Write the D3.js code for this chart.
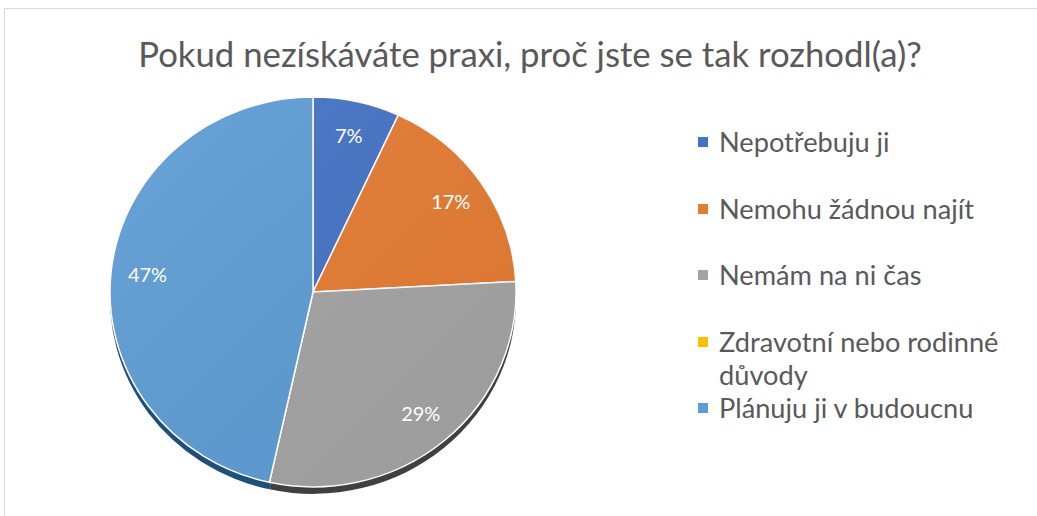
<!DOCTYPE html>
<html>
<head>
<meta charset="utf-8">
<script src="https://cdn.jsdelivr.net/npm/d3@7"></script>
<style>
  body { margin: 0; background: #fff; }
  svg { display: block; }
</style>
</head>
<body>
<div id="chart"></div>
<script>
// answers (counts), order as in the legend
var categories = ["Nepotřebuju ji", "Nemohu žádnou najít", "Nemám na ni čas", "Zdravotní nebo rodinné důvody", "Plánuju ji v budoucnu"]
var counts = [4, 10, 17, 0, 27]
var colors = ["#4472c4", "#e47b32", "#a3a3a3", "#ffc000", "#5d9cd4"]
var shadowColors = ["#203864", "#843c0c", "#404040", "#7f6000", "#1f4e79"]
var title = "Pokud nezískáváte praxi, proč jste se tak rozhodl(a)?"

var width = 1037, height = 516
var svg = d3.select("#chart").append("svg")
    .attr("width", width)
    .attr("height", height)

// chart area frame (runs off the right and bottom edge)
svg.append("rect")
    .attr("x", 4.5).attr("y", 8.5)
    .attr("width", 1100).attr("height", 600)
    .attr("fill", "#fff")
    .attr("stroke", "#d9d9d9")
    .attr("stroke-width", 1)

var font = "Lato, 'Open Sans', sans-serif"

// title, sized to span the same width as the original
var t = svg.append("text")
    .attr("x", 530).attr("y", 67)
    .attr("text-anchor", "middle")
    .style("font-family", font)
    .style("font-size", "30px")
    .style("fill", "#595959")
    .text(title)
var tw = t.node().getComputedTextLength()
t.style("font-size", (30 * 784 / tw) + "px")

// pie, slightly squashed vertically like the original
var cx = 313, cy = 292, r = 203, sy = 0.96
var pie = d3.pie().sort(null).value(function (d) { return d })
var arcs = pie(counts)
var total = d3.sum(counts)
var arc = d3.arc().innerRadius(0).outerRadius(r)
var labelArc = d3.arc().innerRadius(r * 0.82).outerRadius(r * 0.82)

// soft shading over the slices
var defs = svg.append("defs")
var grad = defs.append("linearGradient")
    .attr("id", "shade")
    .attr("x1", "0").attr("y1", "0")
    .attr("x2", "1").attr("y2", "1")
grad.append("stop").attr("offset", "0%").attr("stop-color", "#fff").attr("stop-opacity", 0.08)
grad.append("stop").attr("offset", "100%").attr("stop-color", "#000").attr("stop-opacity", 0.04)

// shadow copy underneath
svg.append("g")
    .attr("transform", "translate(" + cx + "," + (cy + 7) + ") scale(1," + sy + ")")
    .selectAll("path")
    .data(arcs)
    .enter()
    .append("path")
    .attr("d", arc)
    .attr("fill", function (d, i) { return shadowColors[i] })

var g = svg.append("g")
    .attr("transform", "translate(" + cx + "," + cy + ") scale(1," + sy + ")")

g.selectAll("path.slice")
    .data(arcs)
    .enter()
    .append("path")
    .attr("class", "slice")
    .attr("d", arc)
    .attr("fill", function (d, i) { return colors[i] })
    .attr("stroke", "#fff")
    .attr("stroke-width", 1.5)
    .attr("vector-effect", "non-scaling-stroke")

g.append("circle")
    .attr("r", r)
    .attr("fill", "url(#shade)")
    .attr("pointer-events", "none")

// data labels
svg.selectAll("text.lbl")
    .data(arcs.filter(function (d) { return d.value > 0 }))
    .enter()
    .append("text")
    .attr("class", "lbl")
    .attr("x", function (d) { return cx + labelArc.centroid(d)[0] })
    .attr("y", function (d) { return cy + labelArc.centroid(d)[1] * sy })
    .attr("dy", "0.35em")
    .attr("text-anchor", "middle")
    .style("font-family", font)
    .style("font-size", "20px")
    .style("fill", "#fff")
    .text(function (d) { return Math.round(d.value / total * 100) + "%" })

// legend
var legendY = [142, 209, 275, 342, 408]
var legend = svg.append("g")
var lfs = 24
var probe = legend.append("text")
    .style("font-family", font).style("font-size", lfs + "px")
    .text(categories[1])
lfs = lfs * 255 / probe.node().getComputedTextLength()
probe.remove()

categories.forEach(function (c, i) {
    legend.append("rect")
        .attr("x", 698).attr("y", legendY[i] - 5)
        .attr("width", 10).attr("height", 10)
        .attr("fill", colors[i])
    var lines = (i == 3) ? ["Zdravotní nebo rodinné", "důvody"] : [c]
    var txt = legend.append("text")
        .attr("x", 719).attr("y", legendY[i])
        .style("font-family", font)
        .style("font-size", lfs + "px")
        .style("fill", "#595959")
    lines.forEach(function (l, k) {
        txt.append("tspan")
            .attr("x", 719)
            .attr("dy", k == 0 ? "0.35em" : "33px")
            .text(l)
    })
})
</script>
</body>
</html>
